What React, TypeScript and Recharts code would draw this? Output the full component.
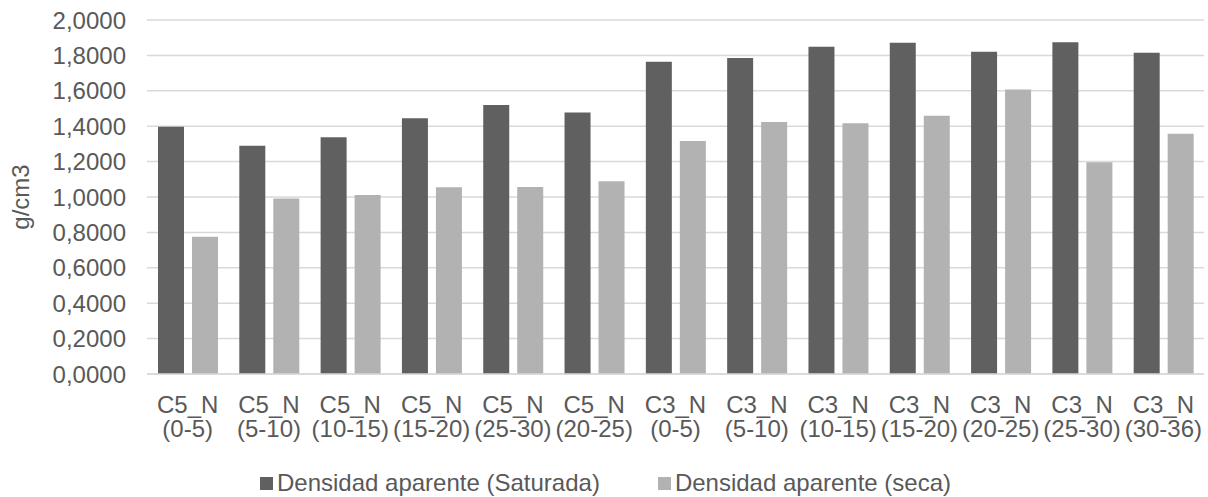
import React from "react";
import { Bar, BarChart, CartesianGrid, Legend, XAxis, YAxis } from "recharts";

const categories = [
  "C5_N|(0-5)",
  "C5_N|(5-10)",
  "C5_N|(10-15)",
  "C5_N|(15-20)",
  "C5_N|(25-30)",
  "C5_N|(20-25)",
  "C3_N|(0-5)",
  "C3_N|(5-10)",
  "C3_N|(10-15)",
  "C3_N|(15-20)",
  "C3_N|(20-25)",
  "C3_N|(25-30)",
  "C3_N|(30-36)",
];

const saturada = [1.397, 1.29, 1.337, 1.445, 1.52, 1.478, 1.764, 1.785, 1.849, 1.872, 1.821, 1.874, 1.815];
const seca = [0.776, 0.992, 1.012, 1.055, 1.056, 1.089, 1.316, 1.424, 1.416, 1.459, 1.608, 1.196, 1.358];

const yTicks = [0, 0.2, 0.4, 0.6, 0.8, 1.0, 1.2, 1.4, 1.6, 1.8, 2.0];

const series = [
  { key: "saturada", name: "Densidad aparente (Saturada)", color: "#606060" },
  { key: "seca", name: "Densidad aparente (seca)", color: "#b2b2b2" },
];

const data = categories.map((c, i) => ({
  name: c,
  saturada: saturada[i],
  seca: seca[i],
}));

const textColor = "#595959";
const font = "'Liberation Sans', Arial, sans-serif";

function CategoryTick(props: any) {
  const { x, y, payload } = props;
  const [l1, l2] = String(payload.value).split("|");
  return (
    <g transform={`translate(${x},${y})`}>
      <text textAnchor="middle" fill={textColor} fontSize={24} fontFamily={font}>
        <tspan x={0} y={31}>{l1}</tspan>
        <tspan x={0} y={55}>{l2}</tspan>
      </text>
    </g>
  );
}

function LegendContent() {
  return (
    <div
      style={{
        display: "flex",
        justifyContent: "flex-start",
        gap: 58,
        fontFamily: font,
        fontSize: 24,
        lineHeight: "28px",
        color: textColor,
        paddingLeft: 260,
      }}
    >
      {series.map((s) => (
        <div key={s.key} style={{ display: "flex", alignItems: "center" }}>
          <span style={{ width: 13, height: 13, background: s.color, marginRight: 4, display: "inline-block" }} />
          <span>{s.name}</span>
        </div>
      ))}
    </div>
  );
}

export default function App() {
  return (
    <div style={{ position: "absolute", left: 0, top: 0, width: 1208, height: 497, background: "#fff" }}>
      <BarChart
        width={1208}
        height={497}
        data={data}
        margin={{ top: 20, right: 4, left: 0, bottom: 0 }}
        barSize={26}
        barGap={8}
      >
        <CartesianGrid vertical={false} stroke="#d9d9d9" strokeWidth={1.5} />
        <XAxis
          dataKey="name"
          interval={0}
          height={95}
          tick={<CategoryTick />}
          tickLine={false}
          axisLine={{ stroke: "#d9d9d9", strokeWidth: 1.5 }}
        />
        <YAxis
          width={147}
          domain={[0, 2]}
          ticks={yTicks}
          interval={0}
          axisLine={false}
          tickLine={false}
          tickMargin={15}
          tickFormatter={(v: number) => v.toFixed(4).replace(".", ",")}
          tick={{ fill: textColor, fontSize: 24, fontFamily: font }}
          label={{
            value: "g/cm3",
            angle: -90,
            position: "insideLeft",
            offset: 20,
            style: { fill: textColor, fontSize: 24, fontFamily: font, textAnchor: "middle" },
          }}
        />
        <Legend verticalAlign="bottom" content={<LegendContent />} wrapperStyle={{ bottom: 0 }} />
        {series.map((s) => (
          <Bar key={s.key} dataKey={s.key} name={s.name} fill={s.color} isAnimationActive={false} />
        ))}
      </BarChart>
    </div>
  );
}
